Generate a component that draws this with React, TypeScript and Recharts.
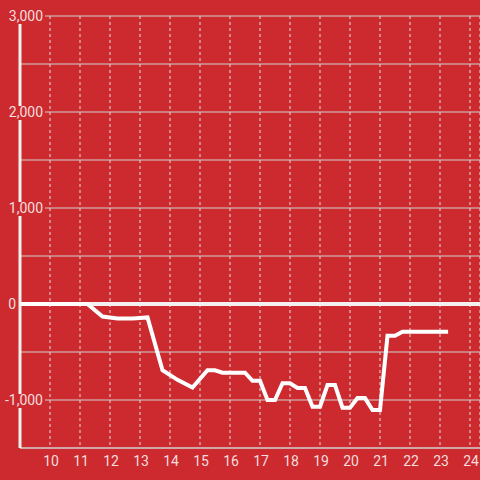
import { LineChart, Line, XAxis, YAxis, CartesianGrid, ReferenceLine } from 'recharts'

const BG = '#cc2a2f'
const TEXT = '#f5dede'

// hours of the day (9 = 09:00) and the running total
const HOURS = [9, 11.25, 11.75, 12.25, 12.75, 13.25, 13.75, 14.25, 14.75, 15.25, 15.5, 15.75, 16, 16.25, 16.5, 16.75, 17, 17.25, 17.5, 17.75, 18, 18.25, 18.5, 18.75, 19, 19.25, 19.5, 19.75, 20, 20.25, 20.5, 20.75, 21, 21.25, 21.5, 21.75, 22, 22.5, 23, 23.27]
const VALUES = [0, 0, -130, -150, -150, -140, -690, -790, -870, -690, -690, -715, -715, -715, -715, -800, -800, -1000, -1000, -825, -825, -875, -875, -1070, -1070, -845, -845, -1080, -1080, -980, -980, -1105, -1105, -330, -330, -290, -290, -290, -290, -290]

const X_TICKS = [10, 11, 12, 13, 14, 15, 16, 17, 18, 19, 20, 21, 22, 23, 24]
const Y_TICKS = [-1500, -1000, -500, 0, 500, 1000, 1500, 2000, 2500, 3000]

const data = HOURS.map((h, i) => ({ h, v: VALUES[i] }))

function YTick({ y, payload }: any) {
  const v = payload.value
  if (v % 1000 !== 0) return <g />
  const label = v.toLocaleString('en-US')
  const right = v === 0 ? 16 : 43
  const w = label.length * 7.6
  return (
    <g>
      <rect x={right - w - 2} y={y - 6} width={w + 4} height={14} fill={BG} />
      <text x={right} y={y + 5} textAnchor="end" fill={TEXT} fontSize={14} fontFamily="Roboto, sans-serif">
        {label}
      </text>
    </g>
  )
}

function XTick({ x, payload }: any) {
  return (
    <text x={x + 1} y={466} textAnchor="middle" fill={TEXT} fontSize={14} fontFamily="Roboto, sans-serif">
      {payload.value}
    </text>
  )
}

export default function App() {
  return (
    <div style={{ position: 'absolute', left: 0, top: 0, width: 480, height: 480, background: BG }}>
      <LineChart width={480} height={480} data={data} margin={{ top: 16, right: 0, bottom: 0, left: 0 }}>
        <CartesianGrid horizontal vertical={false} stroke="#d2d2d2" />
        <CartesianGrid horizontal={false} vertical stroke="#dedede" strokeDasharray="3 3" />
        <XAxis
          dataKey="h"
          type="number"
          domain={[9, 9 + 460 / 30]}
          ticks={X_TICKS}
          allowDataOverflow
          height={32}
          axisLine={{ stroke: '#d2d2d2' }}
          tickLine={false}
          tick={<XTick />}
        />
        <YAxis
          type="number"
          domain={[-1500, 3000]}
          ticks={Y_TICKS}
          interval={0}
          width={20}
          axisLine={{ stroke: '#f4f0f0', strokeWidth: 3 }}
          tickLine={false}
          tick={<YTick />}
        />
        <ReferenceLine y={0} stroke="#f4f0f0" strokeWidth={4} />
        <Line
          dataKey="v"
          type="linear"
          stroke="#ffffff"
          strokeWidth={4}
          dot={false}
          isAnimationActive={false}
        />
      </LineChart>
    </div>
  )
}
